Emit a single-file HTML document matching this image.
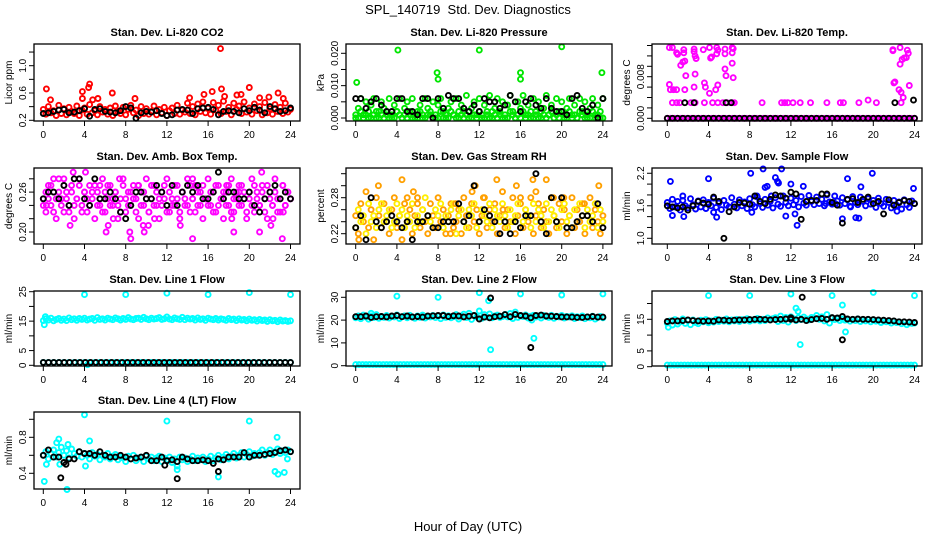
<!DOCTYPE html>
<html><head><meta charset="utf-8"><style>
body{margin:0;background:#fff;}
svg{display:block;font-family:"Liberation Sans",sans-serif;}
</style></head><body>
<svg id="chart" width="936" height="540" xmlns="http://www.w3.org/2000/svg">
<rect width="936" height="540" fill="#fff"/>
<text x="468" y="14" text-anchor="middle" font-size="13">SPL_140719&#160; Std. Dev. Diagnostics</text>
<text x="468" y="531" text-anchor="middle" font-size="13">Hour of Day (UTC)</text>
</svg>
<script>
// ---- data ----
const xTicks=[0,4,8,12,16,20,24];
const co2Red=[.36,.29,.40,.31,.34,.27,.42,.30,.37,.28,.39,.33,.30,.41,.27,.35,.38,.29,.43,.31,.34,.28,.40,.32,.36,.29,.38,.27,.41,.33,.30,.39,.28,.36,.42,.31,.35,.27,.40,.30,.37,.29,.33,.41,.28,.36,.31,.39,.27,.34,.38,.30,.42,.29,.35,.32,.45,.30,.40,.28,.44,.33,.47,.31,.38,.29,.46,.35,.42,.30,.48,.33,.39,.28,.45,.36,.41,.30,.47,.32,.38,.29,.44,.34,.40,.28,.46,.31,.37,.29,.43,.33,.39,.30,.45,.32,.36];
const co2OutH=[0.3,0.7,3.8,3.8,4.4,4.5,4.8,5.3,6.7,8.9,14.2,15.6,16.4,17.2,17.3,17.6,18.8,19.2,20,21,21.9,22.8,23.3];
const co2OutV=[.66,.5,.62,.52,.68,.73,.5,.52,.6,.52,.53,.58,.62,1.25,.66,.55,.57,.58,.68,.53,.54,.6,.52];
const co2Black=[.30,.31,.33,.35,.36,.31,.32,.34,.37,.26,.36,.37,.33,.32,.31,.34,.40,.38,.23,.31,.33,.32,.34,.30,.27,.28,.35,.36,.35,.30,.37,.38,.39,.36,.28,.33,.34,.33,.31,.37,.34,.39,.35,.31,.40,.37,.33,.34,.38];

const presGreen=[.000,.003,.006,.001,.005,.000,.004,.006,.002,.000,.005,.003,.001,.006,.000,.004,.002,.006,.000,.003,.005,.001,.006,.000,.002,.004,.000,.006,.003,.001,.005,.000,.004,.006,.002,.000,.003,.005,.001,.006,.000,.004,.002,.007,.000,.003,.005,.001,.006,.000,.004,.002,.007,.000,.003,.006,.001,.005,.000,.004,.007,.002,.000,.005,.003,.007,.001,.004,.000,.006,.002,.005,.000,.003,.007,.001,.004,.000,.006,.002,.005,.000,.003,.006,.001,.004,.000,.006,.002,.005,.000,.003,.006,.001,.004,.000,.006];
const presGreen2=[.001,.000,.002,.000,.001,.002,.000,.001,.000,.002,.001,.000,.002,.000,.001,.000,.002,.001,.000,.001,.000,.002,.000,.001,.000,.002,.001,.000,.001,.002,.000,.001,.000,.002,.000,.001,.000,.002,.001,.000,.002,.001,.000,.001,.002,.000,.001,.000,.002,.001,.000,.001,.000,.002,.001,.000,.002,.000,.001,.000,.002,.001,.000,.001,.000,.002,.000,.001,.002,.000,.001,.000,.002,.001,.000,.001,.002,.000,.001,.000,.002,.001,.000,.002,.000,.001,.000,.002,.001,.000,.001,.000,.002,.000,.001,.002,.000];
const presOutH=[0.1,4.1,7.9,8,12,16,16,20,23.9];
const presOutV=[.011,.021,.014,.012,.021,.014,.012,.022,.014];
const presBlack=[.006,.006,.003,.005,.006,.004,.002,.002,.006,.006,.002,.002,.001,.006,.006,.000,.006,.003,.007,.006,.006,.003,.002,.004,.002,.006,.005,.005,.003,.004,.007,.005,.002,.005,.006,.004,.003,.006,.003,.002,.002,.001,.006,.007,.003,.002,.004,.000,.006];

const tempMag=[0,0,0,0,0,0,0,0,0,0,0,0,0,0,0,0,0,0,0,0,0,0,0,0,0,0,0,0,0,0,0,0,0,0,0,0,0,0,0,0,0,0,0,0,0,0,0,0,0,0,0,0,0,0,0,0,0,0,0,0,0,0,0,0,0,0,0,0,0,0,0,0,0];
const tempOutH=[0.5,0.9,1.2,2.3,2.7,3.6,4.4,4.9,5.4,5.8,6.3,6.5,9.2,11.1,11.4,11.7,12.2,12.9,13.9,15.5,16.8,17.1,18.6,19.5,20.3,22.7,0.2,0.5,0.9,1.0,1.3,1.5,1.6,1.6,1.7,1.8,1.7,0.2,0.3,0.6,0.9,2.6,2.6,2.7,2.8,2.7,2.6,3.5,3.6,3.7,4.1,4.2,4.3,4.1,4.8,4.9,4.8,4.7,4.9,5.6,5.6,5.6,5.7,6.3,6.4,6.3,6.3,6.4,21.9,21.9,22,22.1,22.6,22.6,22.8,23,23.2,23.3,23.4,23.5,22.5,22.7,22.9];
const tempOutV=[.003,.003,.003,.003,.003,.003,.003,.003,.003,.003,.003,.003,.003,.003,.003,.003,.003,.003,.003,.003,.003,.003,.003,.0035,.003,.003,.0136,.0136,.0126,.0123,.0102,.0108,.0132,.0126,.011,.0082,.0055,.0065,.0055,.0055,.0055,.0133,.0128,.012,.0115,.0085,.006,.0132,.0068,.006,.0136,.0116,.0118,.0048,.0136,.0131,.0124,.0055,.0064,.0133,.0124,.0095,.0082,.0136,.0134,.0126,.0106,.0078,.0132,.013,.0068,.007,.0136,.0104,.0113,.0116,.0117,.0131,.0125,.0063,.0055,.005,.004];
const tempBlack=[0,0,0,0,0,0,0,0,0,0,0,0,0,0,0,0,0,0,0,0,0,0,0,0,0,0,0,0,0,0,0,0,0,0,0,0,0,0,0,0,0,0,0,0,0,0,0,0,0];
const tempBlkOutH=[1.7,2.6,5.7,6.2,22.1,23.9];
const tempBlkOutV=[.003,.003,.003,.003,.003,.0035];

const ambMag=[.25,.23,.27,.24,.26,.22,.28,.25,.23,.26,.24,.27,.22,.25,.28,.24,.26,.23,.27,.25,.22,.26,.24,.28,.23,.25,.27,.24,.26,.22,.25,.28,.23,.26,.24,.27,.25,.22,.26,.24,.28,.23,.25,.27,.24,.22,.26,.25,.28,.23,.24,.27,.25,.22,.26,.24,.28,.23,.25,.27,.24,.26,.22,.25,.28,.24,.26,.23,.27,.25,.22,.26,.24,.28,.23,.25,.27,.24,.26,.22,.25,.28,.23,.26,.24,.27,.25,.22,.26,.24,.28,.23,.25,.27,.24,.26,.25];
const ambMag2=[.24,.26,.25,.27,.23,.25,.26,.24,.27,.25,.23,.26,.24,.25,.27,.23,.26,.25,.24,.26,.27,.24,.25,.23,.26,.27,.24,.25,.26,.24,.23,.27,.25,.24,.26,.25,.23,.27,.24,.26,.25,.23,.27,.24,.26,.25,.24,.27,.23,.26,.25,.24,.27,.23,.26,.25,.24,.27,.25,.23,.26,.24,.27,.25,.24,.26,.23,.27,.24,.25,.26,.24,.27,.23,.25,.26,.24,.27,.25,.23,.26,.24,.27,.25,.24,.26,.23,.27,.25,.24,.26,.25,.23,.27,.24,.26,.25];
const ambOutH=[0.3,1,2,2.9,2.6,4.1,5.5,6.1,6.3,6.8,7.4,8.4,8.5,9.2,9.7,9.8,10.2,10.8,13.3,14.5,14.5,14.9,17.8,18.3,18.5,19,21,21.2,22.1,22.3,23.2,23.3];
const ambOutV=[.24,.28,.28,.29,.21,.29,.27,.20,.21,.22,.28,.20,.19,.27,.21,.20,.21,.22,.21,.19,.28,.27,.27,.22,.20,.26,.20,.29,.21,.22,.19,.23];
const ambBlack=[.25,.26,.26,.25,.27,.24,.28,.28,.25,.24,.28,.25,.25,.26,.25,.23,.22,.24,.26,.26,.25,.25,.27,.26,.24,.27,.24,.26,.27,.26,.27,.25,.25,.26,.29,.25,.26,.26,.25,.25,.26,.24,.23,.25,.26,.27,.25,.26,.25];

const rhOrange=[.25,.22,.27,.24,.29,.23,.26,.21,.28,.25,.23,.27,.24,.22,.26,.28,.23,.25,.21,.27,.24,.26,.22,.25,.28,.23,.26,.24,.22,.27,.25,.23,.28,.24,.26,.22,.25,.27,.23,.24,.26,.22,.28,.25,.23,.27,.24,.26,.22,.25,.28,.23,.26,.24,.27,.22,.25,.29,.23,.26,.24,.28,.22,.25,.27,.23,.26,.24,.28,.22,.25,.27,.23,.26,.24,.22,.28,.25,.23,.27,.24,.26,.22,.25,.28,.23,.26,.24,.27,.22,.25,.28,.23,.26,.24,.22,.25];
const rhOrange2=[.23,.26,.24,.25,.22,.27,.24,.25,.23,.26,.27,.24,.25,.26,.23,.24,.27,.25,.26,.23,.25,.24,.27,.23,.25,.24,.26,.28,.25,.24,.23,.26,.25,.27,.23,.25,.24,.26,.27,.22,.25,.26,.24,.23,.26,.25,.27,.23,.24,.26,.25,.24,.27,.23,.26,.25,.24,.27,.25,.23,.26,.24,.25,.27,.23,.24,.26,.25,.23,.27,.24,.26,.25,.23,.27,.24,.26,.25,.24,.23,.26,.27,.24,.25,.23,.26,.24,.27,.25,.23,.26,.24,.25,.27,.23,.26,.24];
const rhOutH=[0.3,2.2,4.5,5.0,5.6,6,9.2,9.7,11.3,11.6,12.4,13.7,14.3,15.6,16,17.5,17.2,18.5,19.2,20.2,22.2,23.6];
const rhOutV=[.21,.30,.31,.28,.29,.27,.22,.27,.29,.30,.28,.31,.26,.30,.28,.29,.31,.31,.28,.28,.27,.30];
const rhBlack=[.23,.25,.21,.28,.24,.23,.24,.25,.24,.23,.24,.21,.24,.24,.25,.23,.23,.24,.24,.24,.27,.24,.25,.30,.24,.26,.25,.24,.22,.24,.22,.24,.23,.25,.25,.32,.24,.22,.28,.24,.28,.23,.23,.24,.25,.25,.24,.27,.23];

const flowBlue=[1.66,1.55,1.72,1.58,1.68,1.52,1.70,1.60,1.56,1.73,1.62,1.54,1.69,1.58,1.71,1.55,1.66,1.60,1.74,1.57,1.65,1.53,1.70,1.61,1.58,1.75,1.63,1.56,1.71,1.60,1.67,1.55,1.73,1.62,1.58,1.76,1.64,1.57,1.72,1.61,1.68,1.56,1.75,1.63,1.59,1.78,1.66,1.60,1.74,1.62,1.70,1.58,1.77,1.65,1.61,1.79,1.68,1.62,1.76,1.64,1.72,1.60,1.80,1.67,1.63,1.78,1.69,1.61,1.75,1.64,1.71,1.59,1.77,1.66,1.62,1.76,1.68,1.60,1.73,1.63,1.70,1.57,1.74,1.64,1.59,1.72,1.66,1.56,1.70,1.61,1.67,1.54,1.71,1.62,1.57,1.69,1.64];
const flowOutH=[0.3,0.5,1.5,1.6,4,4.5,4.8,8.1,8.2,8.7,9.3,9.5,9.7,10.1,10.5,10.7,10.8,11.1,11.5,12,12.4,12.6,13.2,15.4,16.3,17,17.5,17.8,18.3,18.6,18.8,19.9,22.3,23.9];
const flowOutV=[2.05,1.42,1.78,1.4,2.1,1.48,1.39,2.2,1.48,1.78,2.28,1.94,1.96,1.78,2.12,2.05,2.02,2.28,1.41,2.0,1.45,1.24,1.96,1.64,1.64,1.36,2.1,1.58,1.38,1.37,1.95,2.2,1.5,1.92];
const flowBlack=[1.60,1.58,1.56,1.58,1.52,1.60,1.68,1.65,1.63,1.76,1.68,1.00,1.49,1.58,1.66,1.65,1.63,1.78,1.68,1.64,1.72,1.80,1.78,1.74,1.85,1.82,1.35,1.68,1.70,1.70,1.82,1.82,1.66,1.61,1.28,1.72,1.73,1.66,1.72,1.76,1.64,1.68,1.45,1.71,1.61,1.66,1.70,1.68,1.64];

const l1Cyan=[15.2,15.8,15.4,16.0,15.1,15.6,15.9,15.3,15.7,15.2,16.1,15.5,15.8,15.3,15.9,15.6,16.0,15.4,15.7,15.9,15.3,16.2,15.6,15.8,15.4,16.0,15.7,15.5,16.1,15.8,15.4,15.9,15.6,16.2,15.7,15.5,15.9,16.0,15.6,16.3,15.8,15.5,16.0,15.7,15.9,16.2,15.6,15.8,16.4,15.7,15.5,16.1,15.8,15.6,16.3,15.5,16.0,15.7,15.9,15.4,16.1,15.6,15.8,15.3,16.0,15.7,15.5,15.9,15.4,15.8,15.6,15.3,15.9,15.5,15.7,15.2,15.8,15.4,15.6,15.1,15.7,15.3,15.5,15.0,15.6,15.2,15.4,14.9,15.5,15.1,15.3,14.8,15.4,15.0,15.2,14.9,15.1];
const l1Low=[1,1,1,1,1,1,1,1,1,1,1,1,1,1,1,1,1,1,1,1,1,1,1,1,1,1,1,1,1,1,1,1,1,1,1,1,1,1,1,1,1,1,1,1,1,1,1,1,1];
const l1OutH=[0.1,0.2,4,8,12,16,20,24,4.3];
const l1OutV=[13.8,16.5,24,24,24.5,24,24.7,24,0.2];
const l1Black=[1,1,1,1,1,1,1,1,1,1,1,1,1,1,1,1,1,1,1,1,1,1,1,1,1,1,1,1,1,1,1,1,1,1,1,1,1,1,1,1,1,1,1,1,1,1,1,1];

const l2Cyan=[21.0,21.8,20.6,22.2,21.3,20.4,21.9,21.1,22.4,20.8,21.6,21.2,22.0,20.9,21.7,21.4,22.3,20.7,21.5,21.9,21.0,22.1,21.3,20.8,21.8,21.2,22.2,20.9,21.6,21.4,22.0,21.1,21.7,20.6,22.3,21.2,21.9,21.0,21.5,22.4,20.5,21.8,22.6,21.1,23.0,20.3,22.0,21.4,24.0,20.8,22.4,21.3,22.7,21.0,21.8,22.2,21.2,21.6,22.5,21.4,22.9,20.7,23.5,21.2,22.0,21.6,22.3,20.9,21.7,22.1,21.3,21.8,20.9,22.0,21.5,21.2,22.1,20.8,21.7,21.4,22.0,20.9,21.6,21.3,21.9,20.7,21.5,21.1,21.8,20.6,21.4,21.0,21.7,20.5,21.2,21.6,21.0];
const l2Low=[0.5,0.5,0.5,0.5,0.5,0.5,0.5,0.5,0.5,0.5,0.5,0.5,0.5,0.5,0.5,0.5,0.5,0.5,0.5,0.5,0.5,0.5,0.5,0.5,0.5,0.5,0.5,0.5,0.5,0.5,0.5,0.5,0.5,0.5,0.5,0.5,0.5,0.5,0.5,0.5,0.5,0.5,0.5,0.5,0.5,0.5,0.5,0.5,0.5,0.5,0.5,0.5,0.5,0.5,0.5,0.5,0.5,0.5,0.5,0.5,0.5,0.5,0.5,0.5,0.5,0.5,0.5,0.5,0.5,0.5,0.5,0.5,0.5];
const l2OutH=[4,8,12,12.9,13.1,16,17.1,17.3,20,24,1.5];
const l2OutV=[30.5,30,32,28.5,7,31.5,20,12,31,31.5,23];
const l2Black=[21.5,21.5,21.8,21.2,21.5,21.6,21.4,21.8,22.0,21.5,21.8,21.4,21.6,21.3,21.8,21.9,22.0,22.0,21.6,21.9,21.8,21.4,21.7,22.0,20.5,21.3,21.0,21.5,21.7,22.4,21.5,22.5,22.0,21.8,21.0,22.0,22.2,21.8,21.7,21.6,21.4,21.4,21.3,21.2,21.2,21.4,21.6,21.3,21.3];
const l2BlkOutH=[13.1,17];
const l2BlkOutV=[29.7,8];

const l3Cyan=[13.8,14.5,13.2,14.9,13.5,14.2,15.1,13.7,14.6,13.3,14.8,14.0,13.6,14.7,14.2,14.9,13.9,14.5,14.1,15.0,14.3,14.7,14.4,15.1,14.2,14.8,14.5,15.0,14.3,14.9,14.6,15.2,14.4,14.8,14.7,15.3,14.5,15.0,14.6,15.4,14.8,15.2,15.5,14.3,16.0,14.6,15.6,14.1,15.8,15.2,14.6,15.5,14.9,15.7,15.1,14.8,15.6,15.3,16.2,15.0,15.8,14.5,16.5,13.8,15.4,14.9,15.3,14.6,15.1,14.7,15.0,14.4,14.9,14.6,15.1,14.3,14.8,14.5,14.9,14.2,14.7,14.4,14.6,14.0,14.5,14.2,14.3,13.8,14.4,14.0,14.2,13.6,14.1,13.3,13.9,13.7,13.8];
const l3Low=l2Low.slice();
const l3OutH=[4,8,12,12.5,12.7,12.9,16,17,17.3,20,24,0.1];
const l3OutV=[22.5,22.5,23,18.5,17.5,7,22.5,19.5,11,23.5,22.5,12.5];
const l3Black=[14.3,14.5,14.5,14.6,14.8,14.6,14.5,14.4,14.5,14.4,14.8,14.7,14.6,14.7,14.8,14.8,14.9,15.0,15.0,14.9,14.8,14.9,15.0,15.1,15.0,14.8,15.0,14.6,14.9,15.2,15.3,15.0,15.5,15.4,15.9,15.1,15.0,15.1,15.0,15.0,14.9,14.8,14.7,14.6,14.5,14.2,14.2,14.1,14.0];
const l3BlkOutH=[13.1,17,12,16];
const l3BlkOutV=[22,8.5,15.5,15.5];

const l4Cyan=[0.60,0.64,0.56,0.62,0.66,0.58,0.63,0.69,0.60,0.65,0.57,0.67,0.62,0.59,0.64,0.58,0.62,0.60,0.56,0.63,0.59,0.61,0.55,0.60,0.58,0.62,0.56,0.59,0.61,0.55,0.58,0.57,0.53,0.59,0.56,0.60,0.54,0.57,0.58,0.53,0.59,0.56,0.58,0.54,0.57,0.59,0.53,0.57,0.55,0.58,0.52,0.56,0.48,0.58,0.55,0.57,0.53,0.56,0.59,0.54,0.57,0.55,0.58,0.53,0.56,0.59,0.54,0.57,0.60,0.55,0.58,0.61,0.56,0.59,0.62,0.57,0.60,0.63,0.58,0.61,0.64,0.59,0.62,0.60,0.63,0.66,0.60,0.63,0.66,0.61,0.64,0.67,0.62,0.65,0.63,0.66,0.64];
const l4OutH=[0.1,0.3,1.3,1.5,2.3,2.4,4,4.1,4.5,12,13,17,20,22.5,22.7,22.8,23.4,23.7,1.6];
const l4OutV=[0.31,0.5,0.74,0.78,0.22,0.72,1.05,0.48,0.76,0.98,0.44,0.36,0.98,0.42,0.8,0.39,0.41,0.56,0.5];
const l4Black=[0.60,0.66,0.58,0.58,0.52,0.56,0.56,0.64,0.62,0.62,0.60,0.64,0.60,0.58,0.58,0.60,0.58,0.56,0.57,0.58,0.60,0.54,0.54,0.58,0.54,0.55,0.53,0.58,0.56,0.54,0.54,0.55,0.54,0.51,0.56,0.55,0.58,0.58,0.58,0.63,0.58,0.60,0.60,0.61,0.62,0.63,0.65,0.66,0.64];
const l4BlkOutH=[1.7,2.2,13,17,11.8];
const l4BlkOutV=[0.35,0.5,0.34,0.42,0.49];

// ---- layout ----
const svg=document.getElementById('chart');
const NS='http://www.w3.org/2000/svg';
function mk(tag,attrs,parent){const e=document.createElementNS(NS,tag);for(const k in attrs)e.setAttribute(k,attrs[k]);(parent||svg).appendChild(e);return e;}
const colX0=[43.3,355.7,667.3], colBox=[[34,300],[346,612],[652,922]];
const rowBox=[[44,121],[168,244],[291,366],[412,489]];
const hourPx=247.2/24;

function makePanel(p){
  const g=mk('g',{});
  
  
  const [bx0,bx1]=colBox[p.col],[by0,by1]=rowBox[p.row];
  const X=h=>colX0[p.col]+h*hourPx;
  const Y=v=>p.p0-(v-p.v0)*p.ppu;
  const t=mk('text',{x:(bx0+bx1)/2,y:by0-8,'text-anchor':'middle','font-size':11,'font-weight':'bold'},g);
  t.textContent=p.title;
  
  
  const yt=mk('text',{transform:`translate(${bx0-22},${(by0+by1)/2}) rotate(-90)`,'text-anchor':'middle','font-size':10},g);
  yt.textContent=p.ylab;
  
  
  function pts(hs,vs,color,r){
    const sg=mk('g',{fill:'none',stroke:color,'stroke-width':1.9},g);
    for(let i=0;i<vs.length;i++){
      const c=mk('circle',{cx:X(hs[i]).toFixed(1),cy:Y(vs[i]).toFixed(1),r:r||2.5},sg);
      
      
    }
  }
  const uni=a=>a.map((_,i)=>i*24/(a.length-1));
  p.series.forEach(s=>pts(s.h||uni(s.v),s.v,s.c));
  const bx=mk('rect',{x:bx0,y:by0,width:bx1-bx0,height:by1-by0,fill:'none',stroke:'#000','stroke-width':1.3},g);
  
  
  xTicks.forEach(h=>{
    mk('line',{x1:X(h),x2:X(h),y1:by1,y2:by1+5,stroke:'#000'},g);
    const tl=mk('text',{x:X(h),y:by1+17,'text-anchor':'middle','font-size':10},g);
    tl.textContent=h;
    
    
  });
  p.yticks.forEach(v=>{
    const y=Y(v);
    mk('line',{x1:bx0-5,x2:bx0,y1:y,y2:y,stroke:'#000'},g);
  });
  p.ylabels.forEach(v=>{
    const tl=mk('text',{transform:`translate(${bx0-8},${Y(v)}) rotate(-90)`,'text-anchor':'middle','font-size':10},g);
    tl.textContent=v.toFixed(p.dec);
    
    
  });
}
const RED='#ff0000',GRN='#00e600',MAG='#ff00ff',ORG='#ffa000',YEL='#ffee00',BLU='#0000ff',CYN='#00ffff',BLK='#000';
makePanel({name:'panel-co2',col:0,row:0,title:'Stan. Dev. Li-820 CO2',ylab:'Licor ppm',v0:0.2,p0:120.3,ppu:68.25,yticks:[0.2,0.4,0.6,0.8,1.0,1.2],ylabels:[0.2,0.6,1.0],dec:1,
  series:[{v:co2Red,c:RED},{h:co2OutH,v:co2OutV,c:RED},{v:co2Black,c:BLK}]});
makePanel({name:'panel-pressure',col:1,row:0,title:'Stan. Dev. Li-820 Pressure',ylab:'kPa',v0:0,p0:118,ppu:3235,yticks:[0,0.005,0.01,0.015,0.02],ylabels:[0,0.01,0.02],dec:3,
  series:[{v:presGreen2,c:GRN},{v:presGreen,c:GRN},{h:presOutH,v:presOutV,c:GRN},{v:presBlack,c:BLK}]});
makePanel({name:'panel-temp',col:2,row:0,title:'Stan. Dev. Li-820 Temp.',ylab:'degrees C',v0:0,p0:118.3,ppu:5200,yticks:[0,0.002,0.004,0.006,0.008,0.01,0.012,0.014],ylabels:[0,0.008],dec:3,
  series:[{v:tempMag,c:MAG},{h:tempOutH,v:tempOutV,c:MAG},{v:tempBlack,c:BLK},{h:tempBlkOutH,v:tempBlkOutV,c:BLK}]});
makePanel({name:'panel-amb-temp',col:0,row:1,title:'Stan. Dev. Amb. Box Temp.',ylab:'degrees C',v0:0.2,p0:232,ppu:665,yticks:[0.2,0.22,0.24,0.26,0.28],ylabels:[0.2,0.26],dec:2,
  series:[{v:ambMag,c:MAG},{v:ambMag2,c:MAG},{h:ambOutH,v:ambOutV,c:MAG},{v:ambBlack,c:BLK}]});
makePanel({name:'panel-rh',col:1,row:1,title:'Stan. Dev. Gas Stream RH',ylab:'percent',v0:0.22,p0:233.7,ppu:600,yticks:[0.22,0.24,0.26,0.28,0.3,0.32],ylabels:[0.22,0.28],dec:2,
  series:[{v:rhOrange,c:ORG},{v:rhOrange2,c:YEL},{h:rhOutH,v:rhOutV,c:ORG},{v:rhBlack,c:BLK}]});
makePanel({name:'panel-sample-flow',col:2,row:1,title:'Stan. Dev. Sample Flow',ylab:'ml/min',v0:1.0,p0:238.3,ppu:54.2,yticks:[1.0,1.2,1.4,1.6,1.8,2.0,2.2],ylabels:[1.0,1.6,2.2],dec:1,
  series:[{v:flowBlue,c:BLU},{h:flowOutH,v:flowOutV,c:BLU},{v:flowBlack,c:BLK}]});
makePanel({name:'panel-line1-flow',col:0,row:2,title:'Stan. Dev. Line 1 Flow',ylab:'ml/min',v0:0,p0:365.3,ppu:2.944,yticks:[0,5,10,15,20,25],ylabels:[0,5,15,25],dec:0,
  series:[{v:l1Cyan,c:CYN},{v:l1Low,c:CYN},{h:l1OutH,v:l1OutV,c:CYN},{v:l1Black,c:BLK}]});
makePanel({name:'panel-line2-flow',col:1,row:2,title:'Stan. Dev. Line 2 Flow',ylab:'ml/min',v0:0,p0:365.7,ppu:2.28,yticks:[0,10,20,30],ylabels:[0,10,20,30],dec:0,
  series:[{v:l2Cyan,c:CYN},{v:l2Low,c:CYN},{h:l2OutH,v:l2OutV,c:CYN},{v:l2Black,c:BLK},{h:l2BlkOutH,v:l2BlkOutV,c:BLK}]});
makePanel({name:'panel-line3-flow',col:2,row:2,title:'Stan. Dev. Line 3 Flow',ylab:'ml/min',v0:0,p0:366.7,ppu:3.16,yticks:[0,5,10,15,20],ylabels:[0,5,15],dec:0,
  series:[{v:l3Cyan,c:CYN},{v:l3Low,c:CYN},{h:l3OutH,v:l3OutV,c:CYN},{v:l3Black,c:BLK},{h:l3BlkOutH,v:l3BlkOutV,c:BLK}]});
makePanel({name:'panel-line4-flow',col:0,row:3,title:'Stan. Dev. Line 4 (LT) Flow',ylab:'ml/min',v0:0.4,p0:473.3,ppu:90,yticks:[0.4,0.6,0.8,1.0],ylabels:[0.4,0.8],dec:1,
  series:[{v:l4Cyan,c:CYN},{h:l4OutH,v:l4OutV,c:CYN},{v:l4Black,c:BLK},{h:l4BlkOutH,v:l4BlkOutV,c:BLK}]});
</script>
</body></html>
